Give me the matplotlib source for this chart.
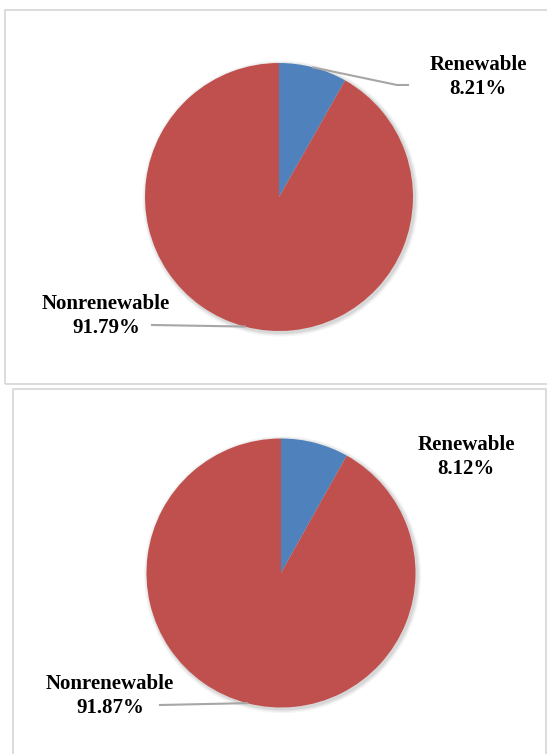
import matplotlib
matplotlib.use('Agg')
import matplotlib.pyplot as plt
import numpy as np
from matplotlib.patches import Rectangle, Circle
from matplotlib.lines import Line2D

categories = ['Renewable', 'Nonrenewable']
values_top = [8.21, 91.79]
values_bottom = [8.12, 91.87]
colors = ['#4F81BD', '#C0504D']

W, H = 547, 754
fig = plt.figure(figsize=(W / 100, H / 100), dpi=100)

FONT = dict(family='Liberation Serif', fontweight='bold', fontsize=15,
            ha='center', va='center', linespacing=1.25, color='black')
LINE_C = '#A6A6A6'


def fy(y):
    return 1 - y / H


# panel frames
for (x0, y0, x1, y1) in [(5, 10, 570, 384), (13, 389, 546, 780)]:
    fig.patches.append(Rectangle((x0 / W, fy(y1)), (x1 - x0) / W, (y1 - y0) / H,
                                 transform=fig.transFigure, fill=False,
                                 edgecolor='#D9D9D9', linewidth=1.3))


def draw_pie(values, cx, cy, r):
    ax = fig.add_axes([(cx - r) / W, fy(cy + r), 2 * r / W, 2 * r / H])
    # soft shadow
    for k, a in [(1.03, 0.04), (1.02, 0.05), (1.01, 0.07)]:
        ax.add_patch(Circle((0.012, -0.012), k, color='#000000', alpha=a,
                            lw=0, zorder=0, clip_on=False))
    wedges, _ = ax.pie(values, colors=colors, startangle=90, counterclock=False,
                       radius=1, wedgeprops=dict(linewidth=0))
    for w in wedges:
        w.set_zorder(2)
    ax.set_xlim(-1, 1)
    ax.set_ylim(-1, 1)
    ax.set_aspect('equal')
    ax.axis('off')
    mids = []
    for w in wedges:
        t = np.deg2rad((w.theta1 + w.theta2) / 2)
        mids.append((np.cos(t), np.sin(t)))
    return ax, mids


def leader(ax, xy, pts):
    p0 = ax.transData.transform(xy)
    xs = [p0[0] / W] + [p[0] / W for p in pts]
    ys = [p0[1] / H] + [fy(p[1]) for p in pts]
    fig.add_artist(Line2D(xs, ys, transform=fig.transFigure, color=LINE_C,
                          linewidth=1.5, zorder=5))


# top panel
ax1, m1 = draw_pie(values_top, 279, 197, 134)
leader(ax1, m1[0], [(397, 85), (408, 85)])
leader(ax1, m1[1], [(152, 325)])
fig.text(478 / W, fy(77), f"{categories[0]}\n{values_top[0]:.2f}%", **FONT)
fig.text(106 / W, fy(316), f"{categories[1]}\n{values_top[1]:.2f}%", **FONT)

# bottom panel
ax2, m2 = draw_pie(values_bottom, 281, 573, 134.5)
leader(ax2, m2[1], [(160, 705)])
fig.text(466 / W, fy(457), f"{categories[0]}\n{values_bottom[0]:.2f}%", **FONT)
fig.text(110 / W, fy(696), f"{categories[1]}\n{values_bottom[1]:.2f}%", **FONT)

fig.savefig('out.png', dpi=100)
